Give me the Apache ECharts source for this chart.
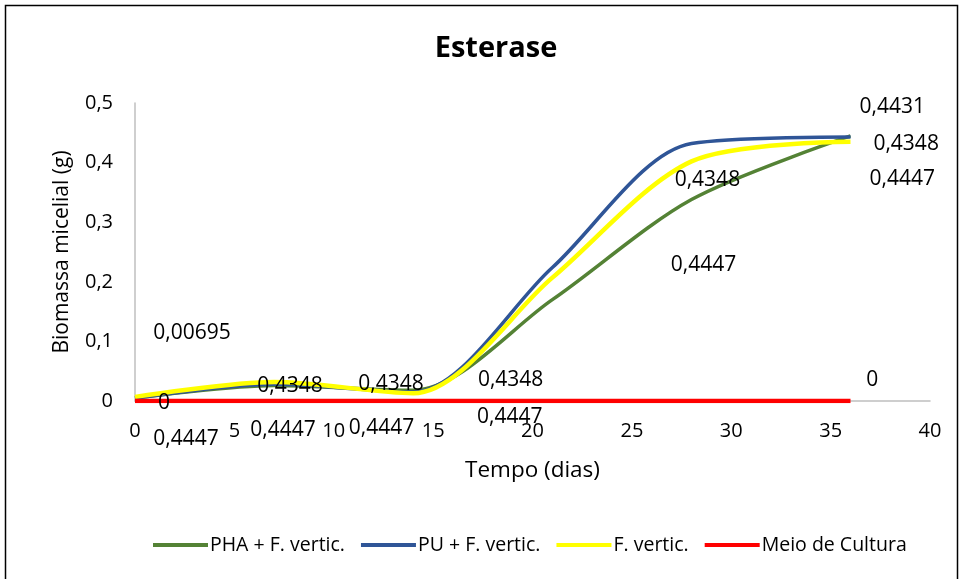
<!DOCTYPE html>
<html>
<head>
<meta charset="utf-8">
<script src="https://cdn.jsdelivr.net/npm/echarts@6/dist/echarts.min.js"></script>
<style>
  html, body { margin: 0; padding: 0; background: #fff; }
  #chart { width: 963px; height: 579px; }
</style>
</head>
<body>
<div id="chart"></div>
<script>
// dias de coleta
const days = [0, 7, 14, 21, 28, 36]
// biomassa micelial (g)
const pha = [0.005, 0.026, 0.018, 0.17, 0.338, 0.4447]
const pu = [0.005, 0.028, 0.015, 0.224, 0.432, 0.4431]
const fVertic = [0.00695, 0.032, 0.013, 0.207, 0.402, 0.4348]
const meio = [0, 0, 0, 0, 0, 0]

// rótulos de dados como aparecem no gráfico (posição em dias / g)
const labelX = [2.87, 1.46, 2.57, 7.8, 7.45, 12.88, 12.4, 18.9, 18.86, 28.8, 28.6, 38.1, 38.8, 38.6, 37.1]
const labelY = [0.114, -0.003, -0.064, 0.025, -0.049, 0.029, -0.045, 0.035, -0.027, 0.37, 0.229, 0.494, 0.432, 0.373, 0.035]
const labelText = ['0,00695', '0', '0,4447', '0,4348', '0,4447', '0,4348', '0,4447', '0,4348', '0,4447',
  '0,4348', '0,4447', '0,4431', '0,4348', '0,4447', '0']

const names = ['PHA + F. vertic.', 'PU + F. vertic.', 'F. vertic.', 'Meio de Cultura']
const colors = ['#548235', '#2f5597', '#ffff00', '#ff0000']

const font = 'Open Sans'

function pairs(ys) {
  return days.map((d, i) => [d, ys[i]])
}

function lineSeries(name, ys, color, width) {
  return {
    name: name,
    type: 'line',
    data: pairs(ys),
    smooth: 0.3,
    symbol: 'none',
    lineStyle: { color: color, width: width },
    itemStyle: { color: color }
  }
}

let myChart = echarts.init(document.getElementById('chart'))
myChart.setOption({
  animation: false,
  backgroundColor: '#fff',
  title: {
    text: 'Esterase',
    left: 491,
    top: 29,
    textAlign: 'center',
    textStyle: { fontFamily: font, fontWeight: 'bold', fontSize: 29, color: '#000' }
  },
  legend: {
    data: names,
    left: 148,
    top: 530,
    icon: 'rect',
    itemWidth: 55,
    itemHeight: 4,
    itemGap: 16,
    textStyle: { fontFamily: font, fontSize: 19.5, color: '#000', padding: [0, 0, 0, -3] }
  },
  grid: { left: 135, right: 33, top: 103, bottom: 178, outerBoundsMode: 'none' },
  xAxis: {
    type: 'value',
    min: 0,
    max: 40,
    interval: 5,
    name: 'Tempo (dias)',
    nameLocation: 'middle',
    nameGap: 58,
    nameTextStyle: { fontFamily: font, fontSize: 22.5, color: '#000' },
    axisLine: { lineStyle: { color: '#bfbfbf', width: 1.5 } },
    axisTick: { show: false },
    splitLine: { show: false },
    axisLabel: { fontFamily: font, fontSize: 20, color: '#000', margin: 20 }
  },
  yAxis: {
    type: 'value',
    min: 0,
    max: 0.5,
    interval: 0.1,
    name: 'Biomassa micelial (g)',
    nameLocation: 'middle',
    nameGap: 62,
    nameTextStyle: { fontFamily: font, fontSize: 21, color: '#000' },
    axisLine: { show: true, lineStyle: { color: '#bfbfbf', width: 1.5 } },
    axisTick: { show: false },
    splitLine: { show: false },
    axisLabel: {
      fontFamily: font, fontSize: 20, color: '#000', margin: 22,
      formatter: v => v === 0 ? '0' : v.toFixed(1).replace('.', ',')
    }
  },
  graphic: [{
    type: 'rect',
    shape: { x: 5.5, y: 5.5, width: 952, height: 590 },
    style: { fill: 'none', stroke: '#000', lineWidth: 1.5 },
    silent: true
  }],
  series: [
    lineSeries(names[0], pha, colors[0], 3.5),
    lineSeries(names[1], pu, colors[1], 3.5),
    lineSeries(names[2], fVertic, colors[2], 4.5),
    lineSeries(names[3], meio, colors[3], 4.5),
    {
      name: 'rotulos',
      type: 'scatter',
      clip: false,
      symbolSize: 0,
      silent: true,
      z: 5,
      itemStyle: { opacity: 1, color: 'transparent' },
      data: labelX.map((x, i) => [x, labelY[i], labelText[i]]),
      label: {
        show: true,
        position: 'inside',
        formatter: p => p.value[2],
        fontFamily: font,
        fontSize: 21,
        color: '#000',
        opacity: 1,
        textBorderWidth: 0
      }
    }
  ]
})
</script>
</body>
</html>
